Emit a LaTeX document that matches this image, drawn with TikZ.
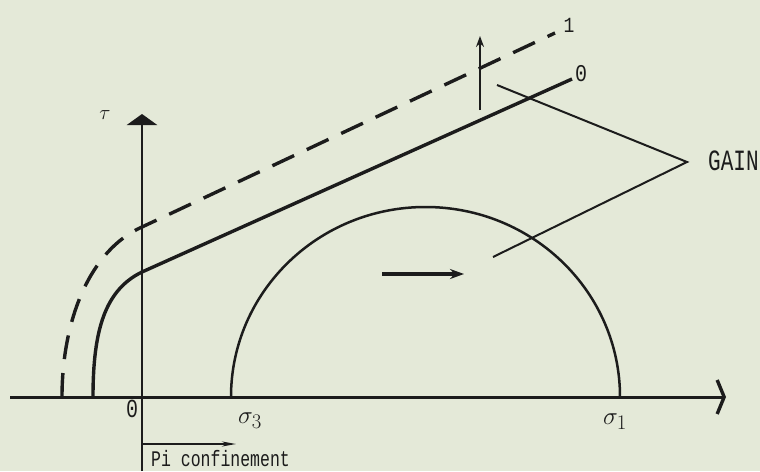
\documentclass[tikz,border=0pt]{standalone}
\usepackage{fontspec}
\setmonofont{Liberation Mono}
\usetikzlibrary{arrows.meta}
\definecolor{paper}{RGB}{228,233,216}
\definecolor{ink}{RGB}{28,28,28}
\begin{document}
\begin{tikzpicture}[x=1pt,y=-1pt,
  thickline/.style={draw=ink,line width=3.4pt},
  thinline/.style={draw=ink,line width=2pt},
  dashline/.style={draw=ink,line width=3.4pt,dash pattern=on 24pt off 14pt},
  lbl/.style={inner sep=0pt,text=ink},
  mono/.style={lbl,font=\ttfamily}]
\fill[paper] (0,0) rectangle (760,471);
\useasboundingbox (0,0) rectangle (760,471);
% key points
\coordinate (xl) at (10,397);
\coordinate (xr) at (726,397);
\coordinate (yb) at (142,471);
\coordinate (yt) at (142,114);
\coordinate (O) at (142,397);
\coordinate (s3) at (231,397);
\coordinate (s1) at (620,397);
\coordinate (c0) at (93,397);
\coordinate (k0) at (142,272);
\coordinate (e0) at (572,79);
\coordinate (c1) at (62,397);
\coordinate (k1) at (142,227);
\coordinate (e1) at (555,33);
\coordinate (va) at (480,110);
\coordinate (vb) at (480,36);
\coordinate (ha) at (382,274);
\coordinate (hb) at (464,274);
\coordinate (pa) at (143,444);
\coordinate (pb) at (236,444);
\coordinate (g) at (687,162);
\coordinate (gu) at (497,85);
\coordinate (gl) at (493,257);
% axes
\draw[draw=ink,line width=3pt,-{Straight Barb[length=7pt,width=34pt,line width=3.4pt]}] (xl) -- (xr);
\draw[draw=ink,line width=2.8pt,-{Triangle[width=30pt,length=11pt]}] (yb) -- (yt);
% Mohr semicircle
\draw[draw=ink,line width=2.5pt] (s1) arc[start angle=0,end angle=-180,x radius=194.5,y radius=190];
% envelopes
\draw[thickline] (c0) .. controls (93,330) and (105,290) .. (k0) -- (e0);
\draw[dashline] (c1) .. controls (62,320) and (90,250) .. (k1) -- (e1);
% arrows
\draw[draw=ink,line width=2.2pt,-{Stealth[length=11pt,width=8pt]}] (va) -- (vb);
\draw[draw=ink,line width=4pt,-{Stealth[length=14pt,width=10pt]}] (ha) -- (hb);
\draw[draw=ink,line width=2pt,-{Stealth[length=14pt,width=5pt]}] (pa) -- (pb);
% gain leaders
\draw[thinline] (gu) -- (g) -- (gl);
% labels
\node[lbl,font=\fontsize{21}{21}\selectfont] (tau) at (105,115) {$\tau$};
\node[mono,font=\ttfamily\fontsize{20}{20}\selectfont] (zero) at (132,409) {\scalebox{1}[1.3]{0}};
\node[mono,font=\ttfamily\fontsize{18}{18}\selectfont] (lab1) at (569,25) {\scalebox{1}[1.2]{1}};
\node[mono,font=\ttfamily\fontsize{20}{20}\selectfont] (lab0) at (581,74) {\scalebox{1}[1.2]{0}};
\node[lbl,font=\fontsize{28}{28}\selectfont] (sig3) at (250,421) {$\sigma_3$};
\node[lbl,font=\fontsize{28}{28}\selectfont] (sig1) at (615,422) {$\sigma_1$};
\node[mono,anchor=west,font=\ttfamily\fontsize{21}{21}\selectfont] (gain) at (708,161) {\scalebox{1}[1.4]{GAIN}};
\node[mono,anchor=base west,font=\ttfamily\fontsize{16.5}{16.5}\selectfont] (pi) at (151,466) {\scalebox{1}[1.35]{Pi confinement}};
\end{tikzpicture}
\end{document}
